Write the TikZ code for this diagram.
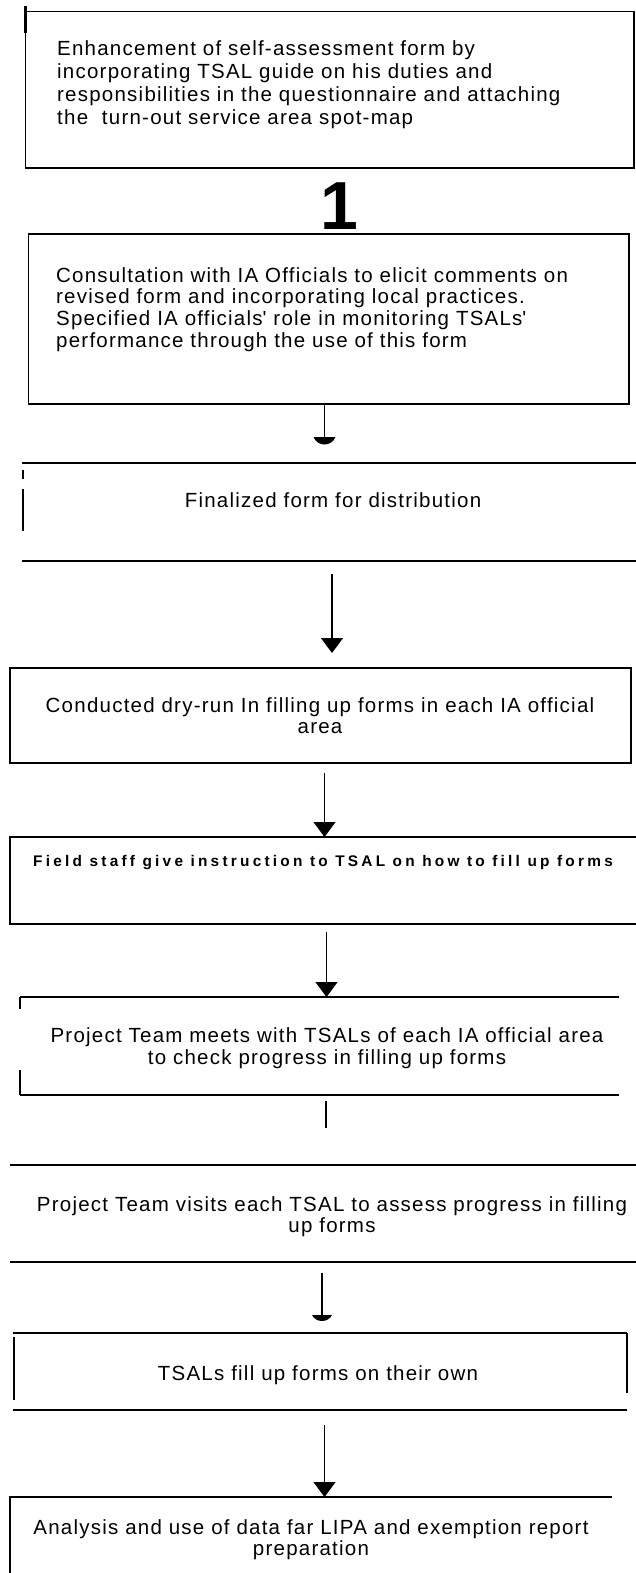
\documentclass[tikz,border=0pt]{standalone}
\usepackage{fontspec}
\setmainfont{Liberation Sans}[LetterSpace=6]
\newfontfamily\tracked{Liberation Sans}[LetterSpace=21]
\usetikzlibrary{arrows.meta,fit}

% stacked lines with a fixed baseline distance; the box baseline is the first line
\newcommand\stackl[2]{\vtop{\baselineskip=#1\relax\halign{##\hfil\cr#2\crcr}}}
\newcommand\stackc[2]{\vtop{\baselineskip=#1\relax\halign{\hfil##\hfil\cr#2\crcr}}}

\tikzset{
  border/.style={line width=1.7pt},
  heavy/.style={line width=2.8pt},
  link/.style={line width=1.2pt},
  arr/.style={link,-{Triangle[width=22pt,length=15pt]}},
  frame/.style={inner sep=0pt,outer sep=0pt},
  txt/.style={inner sep=0pt,font=\fontsize{20.5}{22}\selectfont},
  smalltxt/.style={inner sep=0pt,font=\tracked\bfseries\fontsize{15.4}{17}\selectfont},
  blob/.style={fill=black},
}

\begin{document}
\begin{tikzpicture}[x=1pt,y=-1pt]
\useasboundingbox (0,0) rectangle (636,1573);

% ---------- box outlines ----------
\node[frame,fit={(25.5,11.5) (634,168)}] (b1) {};
\node[frame,fit={(28.5,234) (629,404)}] (b2) {};
\node[frame,fit={(22,463) (636,561)}] (b3) {};
\node[frame,fit={(10,668) (631,763)}] (b4) {};
\node[frame,fit={(10,837) (636,924)}] (b5) {};
\node[frame,fit={(20,997) (619,1095)}] (b6) {};
\node[frame,fit={(10,1165) (636,1262)}] (b7) {};
\node[frame,fit={(13,1333) (627,1410)}] (b8) {};
\node[frame,fit={(10,1497) (612,1573)}] (b9) {};

% box 1: closed frame, left edge runs a little above the top
\draw[border] (b1.north west) rectangle (b1.south east);
\draw[heavy] (b1.north west) ++(0,-5) -- ++(0,27);

% box 2: closed frame
\draw[border] (b2.north west) rectangle (b2.south east);

% box 3: rules top and bottom, broken left edge
\draw[border] (b3.north west) -- (b3.north east);
\draw[border] (b3.south west) -- (b3.south east);
\draw[heavy] (b3.north west) ++(1,7) -- ++(0,9);
\draw[heavy] (b3.north west) ++(1,26) -- ++(0,42);

% box 4: closed frame
\draw[border] (b4.north west) rectangle (b4.south east);

% box 5: open on the right
\draw[border] (b5.north east) -- (b5.north west) -- (b5.south west) -- (b5.south east);

% box 6: rules with short left marks
\draw[border] (b6.north west) -- (b6.north east);
\draw[border] (b6.south west) -- (b6.south east);
\draw[border] (b6.north west) -- ++(0,12);
\draw[heavy] (b6.south west) -- ++(0,-25);

% box 7: rules only
\draw[border] (b7.north west) -- (b7.north east);
\draw[border] (b7.south west) -- (b7.south east);

% box 8: rules with partial sides
\draw[border] (b8.north west) -- (b8.north east);
\draw[border] (b8.south west) -- (b8.south east);
\draw[border] (b8.north west) ++(1,4) -- ++(0,63);
\draw[border] (b8.north east) -- ++(0,60);

% box 9: top rule and left side
\draw[border] (b9.north east) -- (b9.north west) -- (b9.south west);

% ---------- texts ----------
\node[txt,anchor=base west] (t1) at (57,56) {\stackl{22.7pt}{%
Enhancement of self-assessment form by\cr
incorporating TSAL guide on his duties and\cr
responsibilities in the questionnaire and attaching\cr
the\ \ turn-out service area spot-map}};

\node[anchor=base,inner sep=0pt,font=\bfseries\fontsize{68}{70}\selectfont] (n1) at (339.5,229) {1};

\node[txt,anchor=base west] (t2) at (56,282) {\stackl{21.8pt}{%
Consultation with IA Officials to elicit comments on\cr
revised form and incorporating local practices.\cr
Specified IA officials\textquotesingle{} role in monitoring TSALs\textquotesingle\cr
performance through the use of this form}};

\node[txt,anchor=base] (t3) at (333,507) {Finalized form for distribution};

\node[txt,anchor=base] (t4) at (320,712) {\stackc{21pt}{%
Conducted dry-run In filling up forms in each IA official\cr area}};

\node[smalltxt,anchor=base] (t5) at (323,866) {Field staff give instruction to TSAL on how to fill up forms};

\node[txt,anchor=base] (t6) at (327,1042) {\stackc{22pt}{%
Project Team meets with TSALs of each IA official area\cr
to check progress in filling up forms}};

\node[txt,anchor=base] (t7) at (332,1211) {\stackc{21pt}{%
Project Team visits each TSAL to assess progress in filling\cr up forms}};

\node[txt,anchor=base] (t8) at (318,1380) {TSALs fill up forms on their own};

\node[txt,anchor=base] (t9) at (311,1534) {\stackc{21pt}{%
Analysis and use of data far LIPA and exemption report\cr preparation}};

% ---------- connectors ----------
% box 2 -> box 3 (blunt head)
\coordinate (h1) at (324.5,437);
\draw[link] (h1 |- b2.south) -- (h1);
\fill[blob,shift={(h1)}] (-11,0) -- (11,0) .. controls (7,10) and (-7,10) .. cycle;

% box 3 -> box 4
\coordinate (s2) at (332,574);
\coordinate (e2) at (332,653);
\draw[arr] (s2) -- (e2);

% box 4 -> box 5
\coordinate (s3) at (324.5,773);
\draw[arr] (s3) -- (s3 |- b5.north);

% box 5 -> box 6
\coordinate (s4) at (326.5,932);
\draw[arr] (s4) -- (s4 |- b6.north);

% box 6 -> box 7 (stub)
\coordinate (s5) at (326,1101);
\coordinate (e5) at (326,1128);
\draw[link] (s5) -- (e5);

% box 7 -> box 8 (blunt head)
\coordinate (s6) at (322,1273);
\coordinate (h6) at (322,1315);
\draw[link] (s6) -- (h6);
\fill[blob,shift={(h6)}] (-10,0) -- (10,0) .. controls (6,8) and (-6,8) .. cycle;

% box 8 -> box 9
\coordinate (s7) at (324.5,1425);
\draw[arr] (s7) -- (s7 |- b9.north);
\end{tikzpicture}
\end{document}
